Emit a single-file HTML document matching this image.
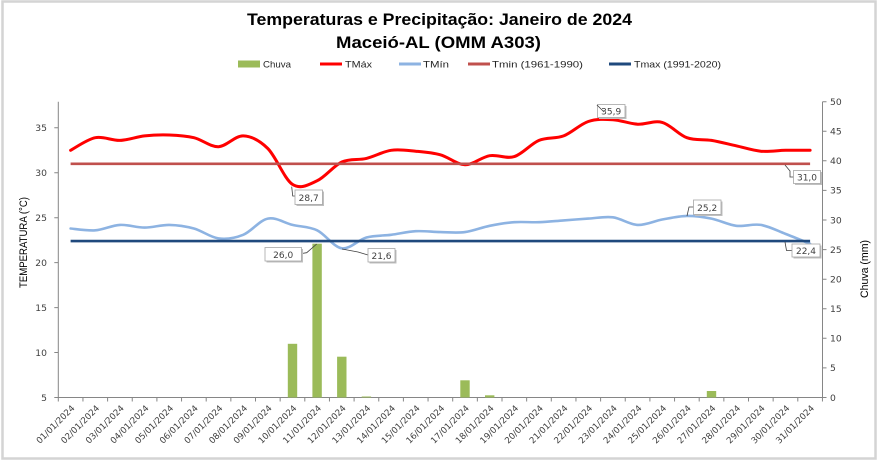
<!DOCTYPE html>
<html><head><meta charset="utf-8"><style>
html,body{margin:0;padding:0;background:#fff;}
svg{display:block;}
</style></head><body>
<svg width="878" height="461" viewBox="0 0 878 461" xmlns="http://www.w3.org/2000/svg">
<rect x="0" y="0" width="878" height="461" fill="#fff"/>
<rect x="2.5" y="1.5" width="873" height="457" fill="none" stroke="#d4d4d4" stroke-width="2.5"/>

<!-- Title -->
<g font-family="'Liberation Sans', sans-serif" font-weight="bold" fill="#000" font-size="17">
<text x="247" y="25" textLength="385" lengthAdjust="spacingAndGlyphs">Temperaturas e Precipitação: Janeiro de 2024</text>
<text x="336" y="48" textLength="205" lengthAdjust="spacingAndGlyphs">Maceió-AL (OMM A303)</text>
</g>

<!-- Legend -->
<g font-family="'Liberation Sans', sans-serif" font-size="9.5" fill="#262626">
<rect x="238" y="60.5" width="22" height="7" fill="#9bbb59"/>
<text x="263" y="67.5" textLength="28" lengthAdjust="spacingAndGlyphs">Chuva</text>
<line x1="320" y1="64" x2="342" y2="64" stroke="#ff0000" stroke-width="3"/>
<text x="345" y="67.5" textLength="27" lengthAdjust="spacingAndGlyphs">TMáx</text>
<line x1="399" y1="64" x2="421" y2="64" stroke="#8db3e2" stroke-width="3"/>
<text x="423" y="67.5" textLength="26" lengthAdjust="spacingAndGlyphs">TMín</text>
<line x1="468" y1="64" x2="490" y2="64" stroke="#c0504d" stroke-width="3"/>
<text x="492" y="67.5" textLength="91" lengthAdjust="spacingAndGlyphs">Tmin (1961-1990)</text>
<line x1="609" y1="64" x2="631" y2="64" stroke="#1f497d" stroke-width="3"/>
<text x="634" y="67.5" textLength="87" lengthAdjust="spacingAndGlyphs">Tmax (1991-2020)</text>
</g>

<!-- Axes -->
<g stroke="#868686" stroke-width="1" fill="none">
<line x1="58.3" y1="101.7" x2="58.3" y2="397.5"/>
<line x1="822.5" y1="101.7" x2="822.5" y2="397.5"/>
<line x1="58.3" y1="397.5" x2="822.5" y2="397.5"/>
<path d="M54.3,397.5h4 M54.3,352.55h4 M54.3,307.6h4 M54.3,262.65h4 M54.3,217.7h4 M54.3,172.75h4 M54.3,127.8h4"/>
<path d="M822.5,397.5h4 M822.5,367.9h4 M822.5,338.3h4 M822.5,308.8h4 M822.5,279.2h4 M822.5,249.6h4 M822.5,220h4 M822.5,190.4h4 M822.5,160.8h4 M822.5,131.3h4 M822.5,101.7h4"/>
<path d="M58.3,397.5v4 M82.95,397.5v4 M107.6,397.5v4 M132.25,397.5v4 M156.9,397.5v4 M181.55,397.5v4 M206.2,397.5v4 M230.85,397.5v4 M255.5,397.5v4 M280.15,397.5v4 M304.8,397.5v4 M329.45,397.5v4 M354.1,397.5v4 M378.75,397.5v4 M403.4,397.5v4 M428.05,397.5v4 M452.7,397.5v4 M477.35,397.5v4 M502,397.5v4 M526.65,397.5v4 M551.3,397.5v4 M575.95,397.5v4 M600.6,397.5v4 M625.25,397.5v4 M649.9,397.5v4 M674.55,397.5v4 M699.2,397.5v4 M723.85,397.5v4 M748.5,397.5v4 M773.15,397.5v4 M797.8,397.5v4 M822.45,397.5v4"/>
</g>

<!-- Left tick labels -->
<g font-family="'DejaVu Sans', sans-serif" font-size="9.2" fill="#404040" text-anchor="end">
<text x="47" y="400.8">5</text>
<text x="47" y="355.9">10</text>
<text x="47" y="310.9">15</text>
<text x="47" y="266">20</text>
<text x="47" y="221">25</text>
<text x="47" y="176.1">30</text>
<text x="47" y="131.1">35</text>
</g>
<!-- Right tick labels -->
<g font-family="'DejaVu Sans', sans-serif" font-size="9.2" fill="#404040">
<text x="830" y="400.8">0</text>
<text x="830" y="371.2">5</text>
<text x="830" y="341.6">10</text>
<text x="830" y="312.1">15</text>
<text x="830" y="282.5">20</text>
<text x="830" y="252.9">25</text>
<text x="830" y="223.3">30</text>
<text x="830" y="193.7">35</text>
<text x="830" y="164.1">40</text>
<text x="830" y="134.6">45</text>
<text x="830" y="105">50</text>
</g>

<!-- Axis titles -->
<text transform="translate(27,242.5) rotate(-90)" text-anchor="middle" font-family="'Liberation Sans', sans-serif" font-size="11" fill="#000" textLength="91" lengthAdjust="spacingAndGlyphs">TEMPERATURA (°C)</text>
<text transform="translate(868,269) rotate(-90)" text-anchor="middle" font-family="'Liberation Sans', sans-serif" font-size="11" fill="#000" textLength="58" lengthAdjust="spacingAndGlyphs">Chuva (mm)</text>

<!-- X labels -->
<g font-family="'DejaVu Sans', sans-serif" font-size="8.7" fill="#404040" text-anchor="end">
<text transform="translate(73.1,406.5) rotate(-45)" dy="0.35em">01/01/2024</text>
<text transform="translate(97.8,406.5) rotate(-45)" dy="0.35em">02/01/2024</text>
<text transform="translate(122.4,406.5) rotate(-45)" dy="0.35em">03/01/2024</text>
<text transform="translate(147.1,406.5) rotate(-45)" dy="0.35em">04/01/2024</text>
<text transform="translate(171.7,406.5) rotate(-45)" dy="0.35em">05/01/2024</text>
<text transform="translate(196.4,406.5) rotate(-45)" dy="0.35em">06/01/2024</text>
<text transform="translate(221,406.5) rotate(-45)" dy="0.35em">07/01/2024</text>
<text transform="translate(245.7,406.5) rotate(-45)" dy="0.35em">08/01/2024</text>
<text transform="translate(270.3,406.5) rotate(-45)" dy="0.35em">09/01/2024</text>
<text transform="translate(295,406.5) rotate(-45)" dy="0.35em">10/01/2024</text>
<text transform="translate(319.6,406.5) rotate(-45)" dy="0.35em">11/01/2024</text>
<text transform="translate(344.3,406.5) rotate(-45)" dy="0.35em">12/01/2024</text>
<text transform="translate(368.9,406.5) rotate(-45)" dy="0.35em">13/01/2024</text>
<text transform="translate(393.6,406.5) rotate(-45)" dy="0.35em">14/01/2024</text>
<text transform="translate(418.2,406.5) rotate(-45)" dy="0.35em">15/01/2024</text>
<text transform="translate(442.9,406.5) rotate(-45)" dy="0.35em">16/01/2024</text>
<text transform="translate(467.5,406.5) rotate(-45)" dy="0.35em">17/01/2024</text>
<text transform="translate(492.2,406.5) rotate(-45)" dy="0.35em">18/01/2024</text>
<text transform="translate(516.8,406.5) rotate(-45)" dy="0.35em">19/01/2024</text>
<text transform="translate(541.5,406.5) rotate(-45)" dy="0.35em">20/01/2024</text>
<text transform="translate(566.1,406.5) rotate(-45)" dy="0.35em">21/01/2024</text>
<text transform="translate(590.8,406.5) rotate(-45)" dy="0.35em">22/01/2024</text>
<text transform="translate(615.4,406.5) rotate(-45)" dy="0.35em">23/01/2024</text>
<text transform="translate(640.1,406.5) rotate(-45)" dy="0.35em">24/01/2024</text>
<text transform="translate(664.7,406.5) rotate(-45)" dy="0.35em">25/01/2024</text>
<text transform="translate(689.4,406.5) rotate(-45)" dy="0.35em">26/01/2024</text>
<text transform="translate(714,406.5) rotate(-45)" dy="0.35em">27/01/2024</text>
<text transform="translate(738.7,406.5) rotate(-45)" dy="0.35em">28/01/2024</text>
<text transform="translate(763.3,406.5) rotate(-45)" dy="0.35em">29/01/2024</text>
<text transform="translate(788,406.5) rotate(-45)" dy="0.35em">30/01/2024</text>
<text transform="translate(812.6,406.5) rotate(-45)" dy="0.35em">31/01/2024</text>
</g>

<!-- Bars -->
<g fill="#9bbb59">
<rect x="287.8" y="343.8" width="9.4" height="53.7"/>
<rect x="312.4" y="243.7" width="9.4" height="153.8"/>
<rect x="337.1" y="356.7" width="9.4" height="40.8"/>
<rect x="361.7" y="396.5" width="9.4" height="1"/>
<rect x="460.3" y="380.3" width="9.4" height="17.2"/>
<rect x="485" y="395.3" width="9.4" height="2.2"/>
<rect x="706.8" y="391" width="9.4" height="6.5"/>
</g>

<!-- TMin curve -->
<path fill="none" stroke="#8db3e2" stroke-width="2.6" stroke-linejoin="round" stroke-linecap="round" d="M70.6,228.5 C74.7,228.8 87.1,230.9 95.3,230.3 S111.7,225.35 119.9,224.9 S136.4,227.6 144.6,227.6 S161,224.75 169.2,224.9 S185.7,226.25 193.9,228.5 S210.3,237.35 218.5,238.4 S235,238.1 243.2,234.8 S259.6,220.25 267.8,218.6 S284.3,222.95 292.5,224.9 S308.9,226.4 317.1,230.3 S333.6,247.1 341.8,248.3 S358.2,239.75 366.4,237.5 S382.9,235.85 391.1,234.8 S407.5,231.65 415.7,231.2 S432.2,231.95 440.4,232.1 S456.8,233.15 465,232.1 S481.5,227.45 489.7,225.8 S506.1,222.8 514.3,222.2 S530.8,222.5 539,222.2 S555.4,221 563.6,220.4 S580.1,219.12 588.3,218.6 S604.7,216.25 612.9,217.3 S629.4,224.53 637.6,224.9 S654,221 662.2,219.5 S678.7,216.05 686.9,215.9 S703.3,216.95 711.5,218.6 S728,224.75 736.2,225.8 S752.6,223.55 760.8,224.9 S777.3,230.75 785.5,233.9 S806,242.15 810.1,243.8"/>

<!-- TMax curve -->
<path fill="none" stroke="#ff0000" stroke-width="3" stroke-linejoin="round" stroke-linecap="round" d="M70.6,150.3 C74.7,148.2 87.1,139.35 95.3,137.7 S111.7,140.7 119.9,140.4 S136.4,136.8 144.6,135.9 S161,134.7 169.2,135 S185.7,135.75 193.9,137.7 S210.3,147 218.5,146.7 S235,135.6 243.2,135.9 S259.6,140.42 267.8,148.5 S284.3,179.02 292.5,184.4 S308.9,184.53 317.1,180.8 S333.6,165.73 341.8,162 S358.2,160.35 366.4,158.4 S382.9,151.5 391.1,150.3 S407.5,150.45 415.7,151.2 S432.2,152.55 440.4,154.8 S456.8,164.55 465,164.7 S481.5,157.05 489.7,155.7 S506.1,159.15 514.3,156.6 S530.8,143.85 539,140.4 S555.4,139.05 563.6,135.9 S580.1,124.2 588.3,121.5 S604.7,119.25 612.9,119.7 S629.4,123.75 637.6,124.2 S654,120.15 662.2,122.4 S678.7,134.7 686.9,137.7 S703.3,139.05 711.5,140.4 S728,144 736.2,145.8 S752.6,150.45 760.8,151.2 S777.3,150.45 785.5,150.3 S806,150.3 810.1,150.3"/>

<!-- Reference lines -->
<line x1="70.6" y1="163.8" x2="810.1" y2="163.8" stroke="#c0504d" stroke-width="2.6"/>
<line x1="70.6" y1="241.1" x2="810.1" y2="241.1" stroke="#1f497d" stroke-width="2.6"/>

<!-- Callouts -->
<g fill="none" stroke="#404040" stroke-width="0.8">
<polyline points="597,105 611,119"/>
<polyline points="785,165 790,171 790,177 793.5,177"/>
<polyline points="785,242 786.5,250.5 792,250.5"/>
<polyline points="687,216 689,207 693.5,207"/>
<polyline points="291.7,186.7 292.7,196 295,196"/>
<polyline points="301.7,253.5 306.7,252.7 316.7,244"/>
<polyline points="342,249 358,252 368,255"/>
</g>
<g fill="#bfbfbf">
<rect x="599" y="106" width="27.5" height="13"/>
<rect x="795" y="172" width="27" height="13"/>
<rect x="793.5" y="245.5" width="28" height="13"/>
<rect x="695" y="201.5" width="27.5" height="14.5"/>
<rect x="296.5" y="191.5" width="27.5" height="14.5"/>
<rect x="266.5" y="249" width="36.5" height="13.5"/>
<rect x="369.5" y="250" width="27" height="13.5"/>
</g>
<g fill="#fff" stroke="#a6a6a6" stroke-width="0.8">
<rect x="597.5" y="104.5" width="27.5" height="13"/>
<rect x="793.5" y="170.5" width="27" height="13"/>
<rect x="792" y="244" width="28" height="13"/>
<rect x="693.5" y="200" width="27.5" height="14.5"/>
<rect x="295" y="190" width="27.5" height="14.5"/>
<rect x="265" y="247.5" width="36.5" height="13.5"/>
<rect x="368" y="248.5" width="27" height="13.5"/>
</g>
<line x1="597" y1="105" x2="604" y2="112" stroke="#404040" stroke-width="0.8"/>
<g font-family="'DejaVu Sans', sans-serif" font-size="9" fill="#404040" text-anchor="middle">
<text x="611.2" y="114.5">35,9</text>
<text x="807" y="180.5">31,0</text>
<text x="806" y="254">22,4</text>
<text x="707.2" y="210.8">25,2</text>
<text x="308.7" y="200.8">28,7</text>
<text x="283.2" y="257.8">26,0</text>
<text x="381.5" y="258.8">21,6</text>
</g>
</svg>
</body></html>
